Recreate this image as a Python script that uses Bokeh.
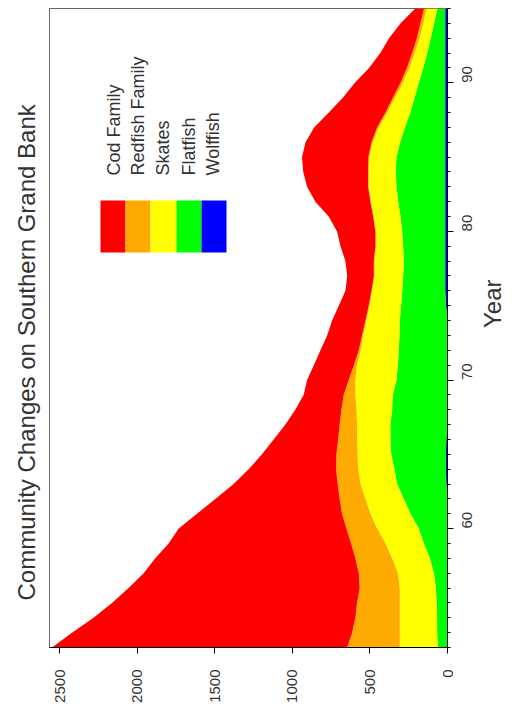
from math import pi
from bokeh.plotting import figure
from bokeh.models import (ColumnDataSource, Range1d, SingleIntervalTicker, Title,
                          Label, BoxAnnotation)
from bokeh.embed import file_html
from bokeh.resources import INLINE

# ---------------- data ----------------
years = list(range(52, 96))
cod = [1903, 1806, 1688, 1580, 1490, 1387, 1290, 1176, 1081, 935,
       802, 671, 564, 480, 416, 350, 297, 258, 268, 258,
       247, 225, 215, 193, 168, 172, 183, 225, 247, 286,
       355, 393, 418, 428, 425, 406, 365, 323, 294, 244,
       205, 179, 128, 56]
redfish = [339, 307, 286, 275, 258, 252, 237, 222, 198, 183,
           166, 147, 142, 136, 122, 112, 97, 75, 43, 21,
           12, 8, 6, 5, 4, 4, 4, 4, 4, 4,
           4, 4, 4, 5, 8, 10, 12, 14, 15, 16,
           17, 18, 18, 18]
skates = [246, 241, 241, 237, 233, 232, 243, 247, 269, 258,
          247, 236, 234, 217, 215, 215, 230, 242, 265, 263,
          246, 233, 216, 204, 194, 185, 189, 175, 169, 173,
          175, 179, 173, 176, 177, 169, 148, 126, 103, 89,
          81, 72, 70, 69]
flatfish = [62, 67, 67, 71, 75, 88, 114, 153, 185, 239,
            282, 317, 332, 353, 360, 368, 357, 352, 329, 320,
            314, 310, 307, 289, 277, 271, 267, 271, 277, 288,
            303, 314, 320, 314, 290, 260, 225, 197, 170, 142,
            115, 93, 71, 50]
wolffish = [0, 0, 0, 0, 0, 0, 0, 0, 0, 0,
            0, 8, 10, 10, 8, 0, 0, 0, 0, 0,
            0, 0, 0, 10, 15, 15, 15, 15, 15, 15,
            15, 15, 15, 15, 15, 15, 15, 15, 15, 15,
            15, 15, 15, 15]

series_names = ["Cod Family", "Redfish Family", "Skates", "Flatfish", "Wolffish"]
series_keys = ["cod", "redfish", "skates", "flatfish", "wolffish"]
series_colors = ["#FF0000", "#FFAA00", "#FFFF00", "#00FF00", "#0000FF"]
value_ticks_interval = 500
year_tick_interval = 10

# ---------------- layout ----------------
W, H = 524, 720
FL, FR, FT, FB = 49, 447, 8, 647          # frame edges in pixels
XMAX = 2566
YMIN, YMAX = 52, 95

def vx(px):
    return XMAX * (FR - px) / (FR - FL)

def vy(py):
    return YMIN + (YMAX - YMIN) * (FB - py) / (FB - FT)

src = ColumnDataSource(dict(year=years, cod=cod, redfish=redfish, skates=skates,
                            flatfish=flatfish, wolffish=wolffish))

p = figure(width=W, height=H, output_backend="svg", toolbar_location=None,
           x_range=Range1d(XMAX, 0), y_range=Range1d(YMIN, YMAX),
           x_axis_location="below", y_axis_location="right",
           min_border_left=FL, min_border_right=W - FR,
           min_border_top=FT, min_border_bottom=H - FB)
p.background_fill_color = "white"
p.border_fill_color = "white"
p.outline_line_color = "#666666"
p.grid.visible = False

stack_keys = series_keys[::-1]
stack_colors = series_colors[::-1]
p.harea_stack(stackers=stack_keys, y="year", color=stack_colors, source=src)

FONT = "Liberation Sans"
TXT = "#333333"

xa = p.xaxis[0]
xa.ticker = SingleIntervalTicker(interval=value_ticks_interval, num_minor_ticks=0)
xa.major_label_orientation = pi / 2
xa.major_label_text_font = FONT
xa.major_label_text_font_size = "15px"
xa.major_label_text_color = TXT
xa.major_tick_out = 6
xa.major_tick_in = 0
xa.minor_tick_line_color = None
xa.major_label_standoff = 16
xa.axis_line_color = "black"

ya = p.yaxis[0]
ya.ticker = SingleIntervalTicker(interval=year_tick_interval, num_minor_ticks=10)
ya.major_label_orientation = pi / 2
ya.major_label_text_font = FONT
ya.major_label_text_font_size = "15px"
ya.major_label_text_color = TXT
ya.major_tick_out = 6
ya.major_tick_in = 0
ya.minor_tick_out = 3
ya.minor_tick_in = 0
ya.major_label_standoff = 14
ya.axis_line_color = "black"
ya.axis_label = "Year"
ya.axis_label_orientation = pi / 2
ya.axis_label_standoff = 12
ya.axis_label_text_font = FONT
ya.axis_label_text_font_size = "24px"
ya.axis_label_text_font_style = "normal"
ya.axis_label_text_color = TXT

title = Title(text="Community Changes on Southern Grand Bank", align="left",
              offset=47, standoff=20, text_font=FONT, text_font_size="24px",
              text_font_style="normal", text_color=TXT)
p.add_layout(title, "left")

# legend: swatches + rotated labels
sw_left = [100, 125, 150, 176, 201]
sw_right = [125, 150, 176, 201, 226]
lab_x = [113, 137, 162, 188, 212]
for name, col, l, r, cx in zip(series_names, series_colors, sw_left, sw_right, lab_x):
    p.add_layout(BoxAnnotation(left=vx(l), right=vx(r), top=vy(200), bottom=vy(252),
                               fill_color=col, fill_alpha=1.0, line_color=None))
    p.add_layout(Label(x=vx(cx), y=vy(175), text=name, angle=pi / 2,
                       text_align="left", text_baseline="middle",
                       text_font=FONT, text_font_size="18px", text_color=TXT))

open("out.html", "w").write(file_html(p, INLINE))
